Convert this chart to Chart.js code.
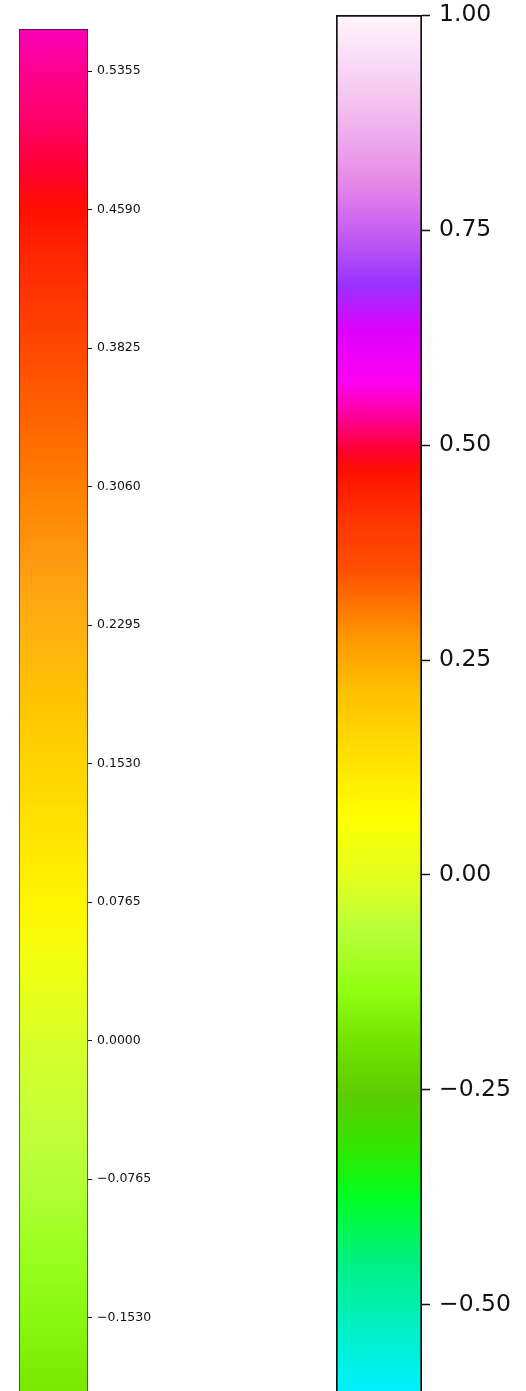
<!DOCTYPE html>
<html>
<head>
<meta charset="utf-8">
<script src="https://cdn.jsdelivr.net/npm/chart.js@4/dist/chart.umd.min.js"></script>
<style>
  html, body { margin: 0; padding: 0; background: #fff; overflow: hidden; }
  #wrap { position: relative; width: 526px; height: 1391px; overflow: hidden; }
  canvas { position: absolute; }
  #leftBar { left: 0; top: 0; }
  #rightBar { left: 330px; top: -8px; }
</style>
</head>
<body>
<div id="wrap">
  <canvas id="leftBar" width="200" height="1459"></canvas>
  <canvas id="rightBar" width="196" height="1465"></canvas>
</div>
<script>
// left colorbar
const leftRange = [-0.22, 0.5587];
const leftTicks = [0.5355, 0.4590, 0.3825, 0.3060, 0.2295, 0.1530, 0.0765, 0.0000, -0.0765, -0.1530];
const leftTickLabels = ['0.5355', '0.4590', '0.3825', '0.3060', '0.2295', '0.1530', '0.0765', '0.0000', '\u22120.0765', '\u22120.1530'];
const leftStopValues = [0.5587, 0.5355, 0.503, 0.481, 0.459, 0.431, 0.382, 0.343, 0.304, 0.266, 0.228, 0.188, 0.151, 0.105, 0.075, 0.045, 0.0, -0.044, -0.077, -0.115, -0.153, -0.193];
const leftStopColors = ['#f800b8', '#ff0090', '#ff0060', '#ff0030', '#ff1000', '#ff2800', '#ff4800', '#ff6400', '#ff8000', '#ff9a10', '#ffb010', '#ffc400', '#ffd400', '#ffe800', '#fff500', '#f2ff10', '#d8ff28', '#c4ff38', '#b4ff38', '#9cff20', '#88f810', '#78e800'];

// right colorbar
const rightRange = [-0.65, 1.0];
const rightTicks = [1.00, 0.75, 0.50, 0.25, 0.00, -0.25, -0.50];
const rightTickLabels = ['1.00', '0.75', '0.50', '0.25', '0.00', '\u22120.25', '\u22120.50'];
const rightStopValues = [1.0, 0.901, 0.808, 0.75, 0.688, 0.633, 0.572, 0.529, 0.494, 0.470, 0.412, 0.354, 0.319, 0.273, 0.214, 0.145, 0.067, -0.007, -0.065, -0.135, -0.193, -0.257, -0.321, -0.373, -0.449, -0.530, -0.601];
const rightStopColors = ['#fff5fc', '#f4c4f0', '#e88ae8', '#c860f0', '#9933ff', '#dd00ff', '#ff00f0', '#ff0090', '#ff0030', '#ff1000', '#ff3500', '#ff5000', '#ff7000', '#ff9a00', '#ffc000', '#ffdd00', '#ffff00', '#e0ff20', '#b8ff38', '#90ff10', '#72e400', '#5ccc00', '#30e800', '#00ff20', '#00f080', '#00f0c8', '#00f0ff'];

function gradientFill(stopValues, stopColors) {
  return (ctx) => {
    const chart = ctx.chart;
    const area = chart.chartArea;
    if (!area) return stopColors[0];
    const y = chart.scales.y;
    const top = y.getPixelForValue(stopValues[0]);
    const bottom = y.getPixelForValue(stopValues[stopValues.length - 1]);
    const g = chart.ctx.createLinearGradient(0, top, 0, bottom);
    stopValues.forEach((v, i) => {
      const p = (y.getPixelForValue(v) - top) / (bottom - top);
      g.addColorStop(Math.min(1, Math.max(0, p)), stopColors[i]);
    });
    return g;
  };
}

function makeColorbar(id, cfg) {
  new Chart(document.getElementById(id), {
    type: 'bar',
    data: {
      labels: [''],
      datasets: [{
        data: [cfg.range],
        backgroundColor: gradientFill(cfg.stopValues, cfg.stopColors),
        borderColor: cfg.edge,
        borderWidth: cfg.edgeWidth,
        borderSkipped: false,
        categoryPercentage: 1,
        barPercentage: 1
      }]
    },
    options: {
      responsive: false,
      animation: false,
      devicePixelRatio: 1,
      layout: { padding: cfg.padding },
      plugins: { legend: { display: false }, tooltip: { enabled: false } },
      scales: {
        x: { display: false },
        y: {
          position: 'right',
          min: cfg.range[0],
          max: cfg.range[1],
          border: { display: false },
          grid: {
            drawOnChartArea: false,
            drawTicks: true,
            tickLength: cfg.tickLength,
            tickWidth: cfg.tickWidth,
            tickColor: '#111'
          },
          afterBuildTicks: (scale) => {
            scale.ticks = cfg.ticks.map(v => ({ value: v }));
          },
          afterFit: (scale) => { scale.width = cfg.axisWidth; },
          ticks: {
            autoSkip: false,
            padding: cfg.labelPad,
            color: '#111',
            font: { family: 'DejaVu Sans', size: cfg.fontSize },
            callback: (val, i) => cfg.labels[i]
          }
        }
      }
    }
  });
}

makeColorbar('leftBar', {
  range: leftRange, ticks: leftTicks, labels: leftTickLabels,
  stopValues: leftStopValues, stopColors: leftStopColors,
  edge: '#222', edgeWidth: 1,
  padding: { left: 19, top: 29, bottom: 20, right: 0 },
  axisWidth: 112, tickLength: 4, tickWidth: 1, labelPad: 5, fontSize: 12.5
});

makeColorbar('rightBar', {
  range: rightRange, ticks: rightTicks, labels: rightTickLabels,
  stopValues: rightStopValues, stopColors: rightStopColors,
  edge: '#111', edgeWidth: 2,
  padding: { left: 6, top: 15, bottom: 20, right: 0 },
  axisWidth: 104, tickLength: 8, tickWidth: 1.5, labelPad: 9, fontSize: 23.5
});
</script>
</body>
</html>
